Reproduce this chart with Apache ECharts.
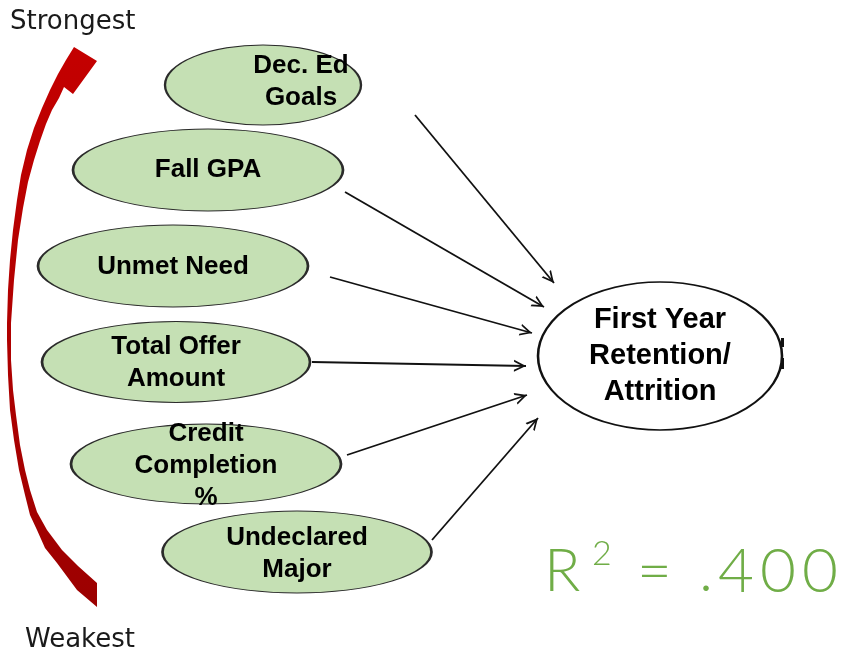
<!DOCTYPE html>
<html>
<head>
<meta charset="utf-8">
<script src="https://cdn.jsdelivr.net/npm/echarts@6/dist/echarts.min.js"></script>
<style>
  html, body { margin: 0; padding: 0; background: #fff; }
  #chart { width: 846px; height: 652px; }
</style>
</head>
<body>
<div id="chart"></div>
<script>
// 因素（从强到弱）
const factors = ['Dec. Ed\nGoals', 'Fall GPA', 'Unmet Need', 'Total Offer\nAmount', 'Credit\nCompletion\n%', 'Undeclared\nMajor'];
const outcome = 'First Year\nRetention/\nAttrition';
const rSquared = '.400';
const rankLabels = ['Strongest', 'Weakest'];

// 布局，像素坐标（隐藏坐标轴 0..846 / 0..652）
const nodeCenter = [[263, 85], [208, 170], [173, 266], [176, 362], [206, 464], [297, 552]];
const nodeSize = [[196, 80], [270, 82], [270, 82], [268, 81], [270, 80], [269, 82]];
const labelOffset = [[38, -3], [0, 0], [0, 1], [0, 1], [0, 2], [0, 2]];
const outcomeCenter = [660, 356];
const outcomeSize = [244, 148];
const arrowFrom = [[415, 115], [345, 192], [330, 277], [312, 362], [347, 455], [432, 540]];
const arrowTo = [[554, 283], [544, 307], [532, 333], [526, 366], [527, 395], [538, 418]];

// 红色弧形箭头轮廓
const redArrow = [
  [74, 47], [97, 61], [73, 94], [64, 87],
  [59, 98], [52, 110], [46, 124], [40, 141], [34, 160], [28, 182], [23, 208], [18, 240], [14, 280],
  [11, 323], [11, 360], [13, 390], [16, 415], [20, 445], [25, 470], [30, 490], [37, 512], [47, 530],
  [62, 550], [78, 566], [97, 583], [97, 607],
  [77, 590], [57, 563], [45, 548], [37, 530], [30, 515], [25, 495], [19, 470], [14, 440], [10, 410],
  [8, 375], [7, 340], [7, 323], [8, 290], [10, 260], [13, 230], [17, 200], [21, 175], [27, 150],
  [34, 128], [42, 108], [50, 90], [58, 74], [66, 60]
];

const ellipse = 'path://M0,50A50,50,0,1,1,100,50A50,50,0,1,1,0,50Z';
// 开口箭头，尖端放在包围盒中心
const chevron = 'path://M-10,-10L-10,-10M10,10L10,10M-5,10L0,0L5,10L3.4,10L0,3.2L-3.4,10Z';
const labelFont = { fontFamily: '"Liberation Sans", Arial, sans-serif', fontWeight: 'bold', color: '#000' };
const greenFont = { fontFamily: 'Lato, sans-serif', fontWeight: 300, fill: '#70ad47', fontSize: 60, lineHeight: 70, align: 'left' };

const chart = echarts.init(document.getElementById('chart'));

chart.setOption({
  animation: false,
  grid: { left: 0, right: 0, top: 0, bottom: 0 },
  xAxis: { type: 'value', min: 0, max: 846, show: false },
  yAxis: { type: 'value', min: 0, max: 652, inverse: true, show: false },
  series: [
    {
      type: 'lines',
      coordinateSystem: 'cartesian2d',
      silent: true,
      symbol: ['none', chevron],
      symbolSize: 24,
      lineStyle: { color: '#111', width: 1.8, opacity: 1 },
      data: arrowFrom.map((p, i) => ({ coords: [p, arrowTo[i]] })),
    },
    {
      type: 'scatter',
      silent: true,
      symbol: ellipse,
      itemStyle: { color: '#c5e0b4', borderColor: '#2b2b2b', borderWidth: 1.5, opacity: 1 },
      label: {
        show: true,
        position: 'inside',
        formatter: p => p.name,
        fontSize: 26,
        lineHeight: 32,
        ...labelFont,
      },
      data: factors.map((name, i) => ({
        name,
        value: nodeCenter[i],
        symbolSize: nodeSize[i],
        label: { offset: labelOffset[i] },
      })).concat([{
        name: outcome,
        value: outcomeCenter,
        symbolSize: outcomeSize,
        itemStyle: { color: '#fff', borderColor: '#111', borderWidth: 2 },
        label: { fontSize: 29, lineHeight: 36 },
      }]),
    },
  ],
  graphic: [
    {
      type: 'polygon',
      silent: true,
      shape: { points: redArrow },
      style: {
        fill: new echarts.graphic.LinearGradient(0, 0, 0, 1, [
          { offset: 0, color: '#c40000' },
          { offset: 1, color: '#9c0000' },
        ]),
      },
    },
    { type: 'rect', silent: true, shape: { x: 781, y: 338, width: 3, height: 9 }, style: { fill: '#111' } },
    { type: 'rect', silent: true, shape: { x: 781, y: 358, width: 3, height: 11 }, style: { fill: '#111' } },
    {
      type: 'text', left: 10, top: 9, silent: true,
      style: { text: rankLabels[0], fontSize: 26, fontFamily: '"DejaVu Sans", sans-serif', fill: '#1a1a1a' },
    },
    {
      type: 'text', left: 25, top: 627, silent: true,
      style: { text: rankLabels[1], fontSize: 26, fontFamily: '"DejaVu Sans", sans-serif', fill: '#1a1a1a' },
    },
    {
      type: 'text', left: 544, top: 537, silent: true,
      style: {
        // R² = .400，逐字设定宽度以贴近原图字距
        text: '{r|R}{s|2}{e|=}{p|' + rSquared[0] + '}' + rSquared.slice(1).split('').map(c => '{d|' + c + '}').join(''),
        rich: {
          r: { ...greenFont, width: 48 },
          s: { ...greenFont, fontSize: 34, lineHeight: 40, width: 45, verticalAlign: 'top' },
          e: { ...greenFont, width: 62 },
          p: { ...greenFont, width: 19 },
          d: { ...greenFont, fontSize: 62, width: 42 },
        },
      },
    },
  ],
});
</script>
</body>
</html>
